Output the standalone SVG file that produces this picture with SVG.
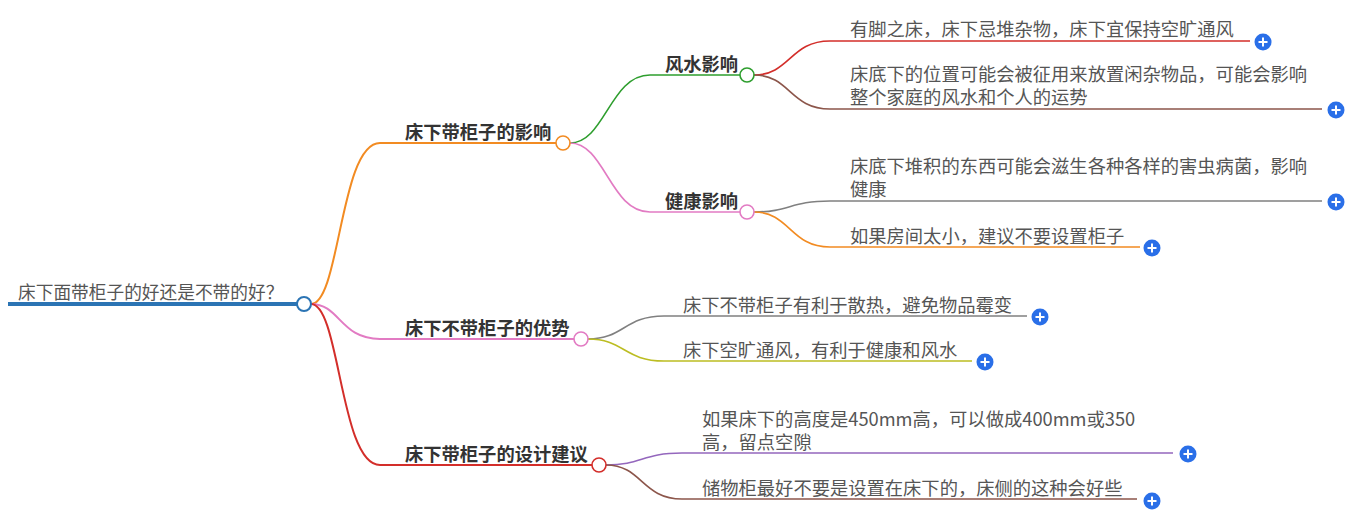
<svg xmlns="http://www.w3.org/2000/svg" width="1358" height="516" viewBox="0 0 1358 516">
<defs>
<style>
.leaf{font-family:"Noto Sans CJK SC","Noto Sans",sans-serif;font-size:18.3px;fill:#555}
.main{font-family:"Noto Sans CJK SC","Noto Sans",sans-serif;font-size:18.3px;font-weight:bold;fill:#333}
.root{font-family:"Noto Sans CJK SC","Noto Sans",sans-serif;font-size:17.7px;fill:#555}
.c{fill:none;stroke-width:1.6}
.b{fill:none;stroke-width:2}
.dot{fill:#fff;stroke-width:1.6}
</style>
<g id="plus">
<circle r="8.5" fill="#2a6fe8"/>
<path d="M-4.5 0H4.5M0 -4.5V4.5" stroke="#fff" stroke-width="2"/>
</g>
</defs>
<rect width="1358" height="516" fill="#fff"/>
<g id="connectors">
<path d="M8 304H297" stroke="#2b74b4" stroke-width="4" fill="none"/>
<path class="b" stroke="#f28b22" d="M311 304C340 304 340 143 380 143H556"/>
<path class="b" stroke="#e27bc3" d="M311 304C340 304 340 339 380 339H574"/>
<path class="b" stroke="#d32e2a" d="M311 304C340 304 340 465 380 465H592"/>
<path class="c" stroke="#2e9e2e" d="M570 143C605 143 610 75 650 75H740"/>
<path class="c" stroke="#e27bc3" d="M570 143C605 143 610 212 650 212H740"/>
<path class="c" stroke="#d32e2a" d="M754 75C790 75 790 41 830 41H1250"/>
<path class="c" stroke="#8c564b" d="M754 75C790 75 790 109 830 109H1322"/>
<path class="c" stroke="#808080" d="M754 212C790 212 790 201 830 201H1322"/>
<path class="c" stroke="#f28b22" d="M754 212C790 212 790 247 830 247H1140"/>
<path class="c" stroke="#808080" d="M588 339C624 339 624 316 664 316H1027"/>
<path class="c" stroke="#bcbd22" d="M588 339C624 339 624 361 664 361H972"/>
<path class="c" stroke="#9467bd" d="M606 465C642 465 642 453 682 453H1173"/>
<path class="c" stroke="#8c564b" d="M606 465C642 465 642 499 682 499H1137"/>
</g>
<g id="root">
<text class="root" x="18" y="299">床下面带柜子的好还是不带的好？</text>
<circle cx="304" cy="304" r="7" fill="#fff" stroke="#2b74b4" stroke-width="2"/>
</g>
<g id="n1">
<text class="main" x="405" y="139">床下带柜子的影响</text>
<circle class="dot" cx="563" cy="143" r="7" stroke="#f28b22"/>
</g>
<g id="n2">
<text class="main" x="405" y="335">床下不带柜子的优势</text>
<circle class="dot" cx="581" cy="339" r="7" stroke="#e27bc3"/>
</g>
<g id="n3">
<text class="main" x="405" y="461">床下带柜子的设计建议</text>
<circle class="dot" cx="599" cy="465" r="7" stroke="#d32e2a"/>
</g>
<g id="n1a">
<text class="main" x="665" y="71">风水影响</text>
<circle class="dot" cx="747" cy="75" r="7" stroke="#2e9e2e"/>
</g>
<g id="n1b">
<text class="main" x="665" y="208">健康影响</text>
<circle class="dot" cx="747" cy="212" r="7" stroke="#e27bc3"/>
</g>
<g id="l1">
<text class="leaf" x="850" y="36">有脚之床，床下忌堆杂物，床下宜保持空旷通风</text>
<use href="#plus" x="1263" y="42"/>
</g>
<g id="l2">
<text class="leaf"><tspan x="850" y="81">床底下的位置可能会被征用来放置闲杂物品，可能会影响</tspan><tspan x="850" y="104">整个家庭的风水和个人的运势</tspan></text>
<use href="#plus" x="1336" y="110"/>
</g>
<g id="l3">
<text class="leaf"><tspan x="850" y="173">床底下堆积的东西可能会滋生各种各样的害虫病菌，影响</tspan><tspan x="850" y="196">健康</tspan></text>
<use href="#plus" x="1336" y="202"/>
</g>
<g id="l4">
<text class="leaf" x="850" y="243">如果房间太小，建议不要设置柜子</text>
<use href="#plus" x="1152" y="248"/>
</g>
<g id="l5">
<text class="leaf" x="683" y="312">床下不带柜子有利于散热，避免物品霉变</text>
<use href="#plus" x="1040" y="317"/>
</g>
<g id="l6">
<text class="leaf" x="683" y="357">床下空旷通风，有利于健康和风水</text>
<use href="#plus" x="985" y="362"/>
</g>
<g id="l7">
<text class="leaf"><tspan x="702" y="426">如果床下的高度是450mm高，可以做成400mm或350</tspan><tspan x="702" y="449">高，留点空隙</tspan></text>
<use href="#plus" x="1188" y="454"/>
</g>
<g id="l8">
<text class="leaf" x="702" y="495">储物柜最好不要是设置在床下的，床侧的这种会好些</text>
<use href="#plus" x="1152" y="501"/>
</g>
</svg>
